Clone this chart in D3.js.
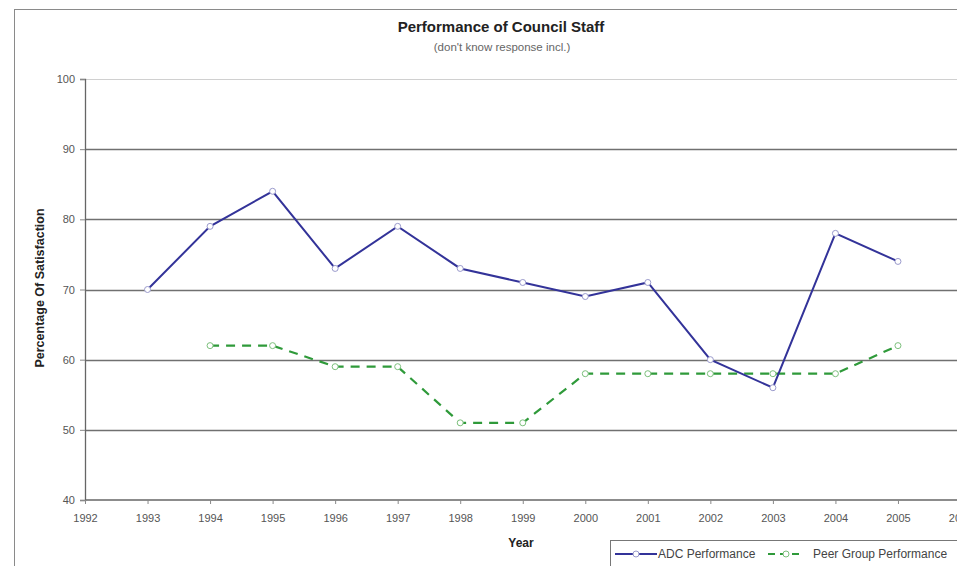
<!DOCTYPE html>
<html>
<head>
<meta charset="utf-8">
<script src="https://cdn.jsdelivr.net/npm/d3@7"></script>
<style>
  body { margin: 0; background: #fff; }
  svg { display: block; font-family: "Liberation Sans", Arial, sans-serif; }
</style>
</head>
<body>
<svg></svg>
<script>
// data
const adcYears = [1993, 1994, 1995, 1996, 1997, 1998, 1999, 2000, 2001, 2002, 2003, 2004, 2005];
const adcValues = [70, 79, 84, 73, 79, 73, 71, 69, 71, 60, 56, 78, 74];
const peerYears = [1994, 1995, 1996, 1997, 1998, 1999, 2000, 2001, 2002, 2003, 2004, 2005];
const peerValues = [62, 62, 59, 59, 51, 51, 58, 58, 58, 58, 58, 62];
const xTicks = d3.range(1992, 2007);
const yTicks = [40, 50, 60, 70, 80, 90, 100];

const size = {w: 957, h: 566};
const svg = d3.select('svg').attr('width', size.w).attr('height', size.h);

// chart area border (runs off the right/bottom of the picture)
svg.append('rect')
    .attr('x', 14.5).attr('y', 9.5)
    .attr('width', 1000).attr('height', 600)
    .attr('fill', 'none').attr('stroke', '#8a8a8a');

const x = d3.scaleLinear().domain([1992, 2006]).range([85, 960.5]);
const y = d3.scaleLinear().domain([40, 100]).range([500, 79]);

// gridlines
svg.append('g').selectAll('line')
    .data(yTicks.filter(d => d > 40))
    .join('line')
    .attr('x1', x(1992)).attr('x2', size.w)
    .attr('y1', d => Math.round(y(d)) + 0.5).attr('y2', d => Math.round(y(d)) + 0.5)
    .attr('stroke', d => d === 100 ? '#d0d0d0' : '#707070')
    .attr('stroke-width', d => d === 100 ? 1 : 1.3);

// axes
const yAxis = svg.append('g')
    .attr('transform', `translate(${x(1992)},0)`)
    .call(d3.axisLeft(y).tickValues(yTicks).tickSize(5).tickPadding(5));
const xAxis = svg.append('g')
    .attr('transform', `translate(0,${y(40)})`)
    .call(d3.axisBottom(x).tickValues(xTicks).tickFormat(d3.format('d')).tickSize(4).tickPadding(10));

[yAxis, xAxis].forEach(g => {
    g.select('.domain').attr('stroke', '#666').attr('stroke-width', 1.3);
    g.selectAll('.tick line').attr('stroke', '#888');
    g.selectAll('.tick text').attr('fill', '#555').style('font-size', '11px');
});
xAxis.select('.domain').attr('d', `M${x(1992)},0H${size.w}`);

// lines
const line = d3.line().x(d => x(d[0])).y(d => y(d[1]));
const adc = adcYears.map((yr, i) => [yr, adcValues[i]]);
const peer = peerYears.map((yr, i) => [yr, peerValues[i]]);

svg.append('path').datum(peer)
    .attr('d', line).attr('fill', 'none')
    .attr('stroke', '#2f9a3a').attr('stroke-width', 2.2)
    .attr('stroke-dasharray', '9,7');
svg.append('path').datum(adc)
    .attr('d', line).attr('fill', 'none')
    .attr('stroke', '#333399').attr('stroke-width', 2);

svg.append('g').selectAll('circle').data(peer).join('circle')
    .attr('cx', d => x(d[0])).attr('cy', d => y(d[1])).attr('r', 3)
    .attr('fill', '#fff').attr('stroke', '#7cc07c').attr('stroke-width', 1);
svg.append('g').selectAll('circle').data(adc).join('circle')
    .attr('cx', d => x(d[0])).attr('cy', d => y(d[1])).attr('r', 3)
    .attr('fill', '#fff').attr('stroke', '#9a9acc').attr('stroke-width', 1);

// titles
svg.append('text').attr('x', 501).attr('y', 32)
    .attr('text-anchor', 'middle').style('font-size', '15px').style('font-weight', 'bold')
    .attr('fill', '#222').text('Performance of Council Staff');
svg.append('text').attr('x', 502).attr('y', 51)
    .attr('text-anchor', 'middle').style('font-size', '11.5px')
    .attr('fill', '#666').text("(don't know response incl.)");
svg.append('text')
    .attr('transform', 'translate(44,288) rotate(-90)')
    .attr('text-anchor', 'middle').style('font-size', '12.5px').style('font-weight', 'bold')
    .attr('fill', '#222').text('Percentage Of Satisfaction');
svg.append('text').attr('x', 521).attr('y', 547)
    .attr('text-anchor', 'middle').style('font-size', '12px').style('font-weight', 'bold')
    .attr('fill', '#222').text('Year');

// legend
const lg = svg.append('g');
lg.append('rect').attr('x', 610.5).attr('y', 540.5).attr('width', 400).attr('height', 40)
    .attr('fill', '#fff').attr('stroke', '#777');
const legendItems = [
    {name: 'ADC Performance', x0: 615, x1: 657, tx: 658, color: '#333399', dash: null, mk: '#9a9acc'},
    {name: 'Peer Group Performance', x0: 768, x1: 804, tx: 813, color: '#2f9a3a', dash: '7,5', mk: '#7cc07c'}
];
legendItems.forEach(it => {
    lg.append('line').attr('x1', it.x0).attr('x2', it.x1).attr('y1', 554).attr('y2', 554)
        .attr('stroke', it.color).attr('stroke-width', 2).attr('stroke-dasharray', it.dash);
    lg.append('circle').attr('cx', (it.x0 + it.x1) / 2).attr('cy', 554).attr('r', 3)
        .attr('fill', '#fff').attr('stroke', it.mk);
    lg.append('text').attr('x', it.tx).attr('y', 558).style('font-size', '12px')
        .attr('fill', '#444').text(it.name);
});
</script>
</body>
</html>
